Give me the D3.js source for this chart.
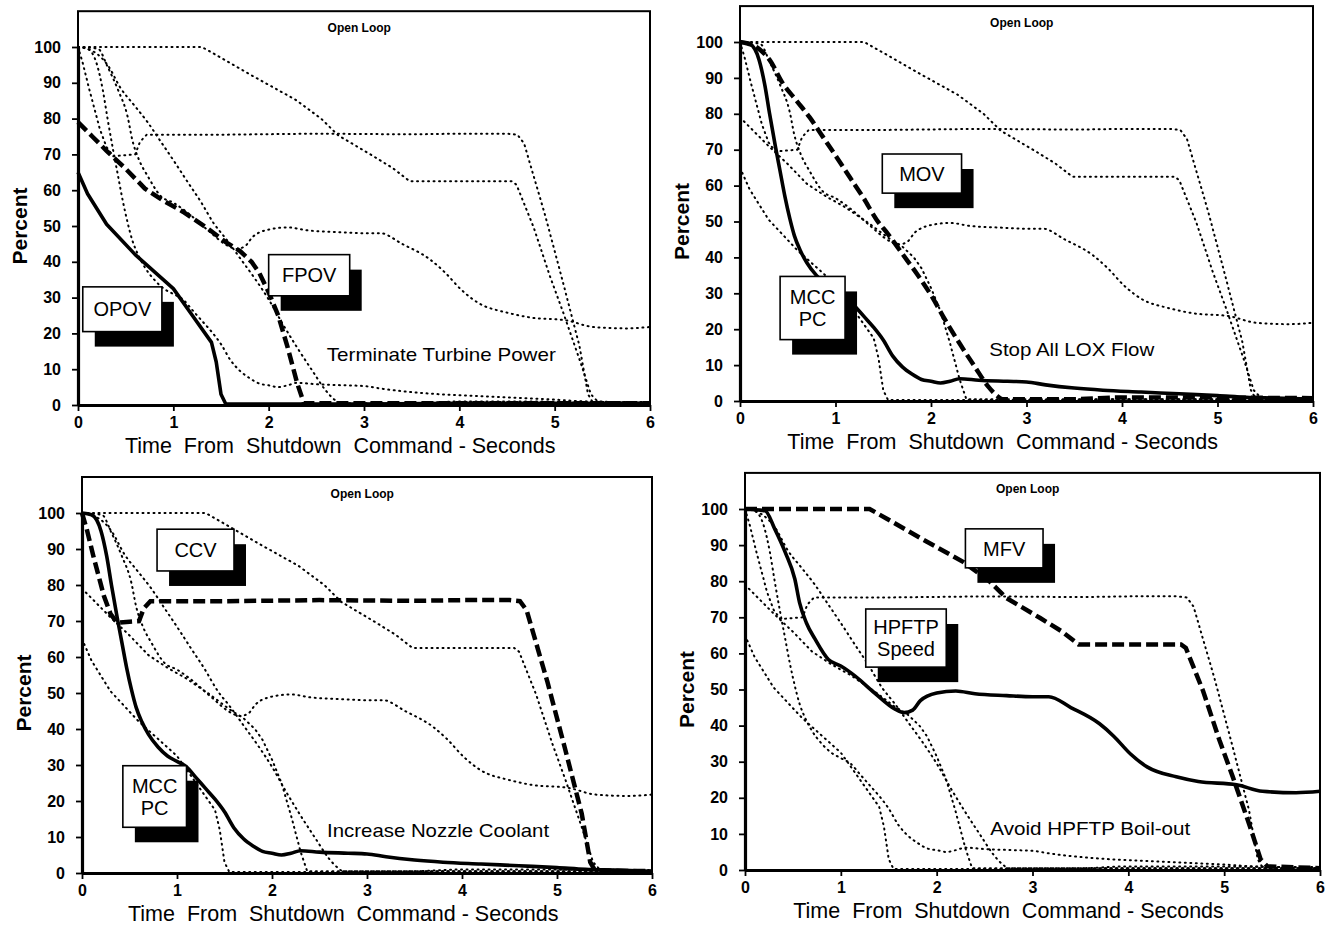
<!DOCTYPE html>
<html>
<head>
<meta charset="utf-8">
<script src="https://cdn.jsdelivr.net/npm/d3@7"></script>
<style>
  body { margin: 0; background: #fff; }
  svg { display: block; font-family: "Liberation Sans", Arial, Helvetica, sans-serif; }
</style>
</head>
<body>
<svg id="chart" width="1332" height="930"></svg>
<script>
// tick values
const xTicks = [0, 1, 2, 3, 4, 5, 6];
const yTicks = [0, 10, 20, 30, 40, 50, 60, 70, 80, 90, 100];

// shutdown traces, [seconds, percent]
const OPOV = [[0, 65], [0.1, 59], [0.3, 50.5], [0.6, 42], [1.0, 32.5], [1.2, 25], [1.4, 17.5], [1.45, 12],
  [1.5, 3], [1.55, 0.3], [2, 0.3], [3, 0.3], [4, 0.5], [5, 0.5], [6, 0.5]];
const FPOV = [[0, 79], [0.15, 75], [0.3, 71], [0.5, 66], [0.7, 60.5], [0.9, 57], [1.1, 54], [1.35, 49.5],
  [1.55, 45.5], [1.7, 43], [1.82, 40], [1.9, 37], [2.0, 31.5], [2.1, 25], [2.2, 16], [2.3, 6], [2.37, 0.5],
  [3, 0.5], [6, 0.5]];
const MOV = [[0, 100], [0.17, 98.6], [0.31, 95], [0.45, 88.4], [0.59, 83.7], [0.73, 79], [0.87, 73.5],
  [1.01, 68], [1.15, 62.3], [1.29, 56.7], [1.43, 50.5], [1.55, 46.5], [1.7, 41], [1.85, 35.5], [2.0, 29.5],
  [2.15, 22.5], [2.3, 16], [2.46, 9.5], [2.6, 4], [2.69, 1.5], [2.75, 0.5], [3.5, 0.5], [4, 1], [6, 0.8]];
const MCCPC = [[0, 100], [0.1, 99.5], [0.2, 95], [0.26, 88], [0.31, 80], [0.37, 71], [0.42, 64], [0.47, 57],
  [0.52, 51], [0.57, 46], [0.63, 42], [0.7, 38.5], [0.8, 35], [0.9, 32.5], [1.0, 31], [1.1, 29.5], [1.2, 26.5],
  [1.3, 23.5], [1.4, 20.5], [1.5, 17], [1.6, 12.5], [1.7, 9.5], [1.8, 7.5], [1.9, 6], [2.0, 5.5], [2.1, 5],
  [2.2, 5.5], [2.3, 6.2], [2.5, 5.8], [2.8, 5.5], [3.0, 5.3], [3.2, 4.5], [3.5, 3.6], [3.8, 3], [4.2, 2.5],
  [4.6, 2], [5.0, 1.5], [5.3, 1], [5.6, 0.8], [6, 0.5]];
const CCV = [[0, 100], [0.05, 95.5], [0.12, 88], [0.19, 81], [0.23, 77], [0.3, 72], [0.37, 69.5], [0.5, 69.8],
  [0.6, 70], [0.65, 73.5], [0.72, 75.5], [1.5, 75.5], [2.5, 75.8], [3.5, 75.6], [4.0, 75.8], [4.5, 75.8],
  [4.61, 75.5], [4.68, 73], [4.9, 53], [5.08, 35], [5.26, 16.5], [5.35, 3], [5.4, 0.7], [6, 0.5]];
const MFV = [[0, 100], [1.3, 100], [1.48, 97.3], [1.84, 91.8], [2.28, 85.3], [2.55, 80], [2.73, 75.3],
  [3.08, 69.8], [3.3, 66.2], [3.48, 62.5], [4.0, 62.5], [4.55, 62.5], [4.6, 61.5], [4.78, 49.6], [4.95, 36],
  [5.09, 25.8], [5.27, 12], [5.38, 3], [5.45, 1], [6, 0.5]];
const HPFTP = [[0, 100], [0.21, 99.5], [0.31, 94.5], [0.42, 88], [0.52, 80.6], [0.57, 74], [0.64, 68.5],
  [0.73, 64], [0.87, 58.3], [1.0, 56.5], [1.15, 53.7], [1.35, 49.1], [1.57, 44.5], [1.66, 43.6], [1.75, 44.3],
  [1.83, 46.9], [2.0, 49], [2.2, 49.6], [2.4, 48.8], [2.73, 48.3], [3.0, 48], [3.17, 48], [3.4, 45], [3.7, 40.5],
  [3.85, 37], [4.02, 32.2], [4.2, 28.5], [4.5, 25.8], [4.73, 24.5], [5.13, 23.6], [5.4, 21.8], [5.75, 21.4],
  [6, 21.8]];

const traces = { OPOV, FPOV, MOV, MCCPC, CCV, MFV, HPFTP };
const smooth = ["MOV", "MCCPC", "HPFTP"]; // the rest are valve ramps, drawn straight

// one entry per quadrant: which trace is solid / dashed, box labels and note
const panels = [
  { x0: 78, x1: 650, yb: 405, yt: 47, solid: "OPOV", dashed: "FPOV",
    note: { text: "Terminate Turbine Power", t: 2.61, p: 12.3, w: 229 },
    boxes: [{ lines: ["OPOV"], t0: 0.05, t1: 0.88, p0: 33, p1: 20.5 },
            { lines: ["FPOV"], t0: 2.0, t1: 2.85, p0: 42, p1: 30.5 }] },
  { x0: 740, x1: 1313, yb: 401, yt: 42, solid: "MCCPC", dashed: "MOV",
    note: { text: "Stop All LOX Flow", t: 2.61, p: 12.5, w: 165 },
    boxes: [{ lines: ["MOV"], t0: 1.49, t1: 2.32, p0: 68.8, p1: 57.9 },
            { lines: ["MCC", "PC"], t0: 0.42, t1: 1.1, p0: 34.7, p1: 17.1 }] },
  { x0: 82, x1: 652, yb: 873, yt: 513, solid: "MCCPC", dashed: "CCV",
    note: { text: "Increase Nozzle Coolant", t: 2.58, p: 10, w: 222 },
    boxes: [{ lines: ["CCV"], t0: 0.79, t1: 1.6, p0: 95.5, p1: 83.9 },
            { lines: ["MCC", "PC"], t0: 0.43, t1: 1.1, p0: 29.8, p1: 12.7 }] },
  { x0: 745, x1: 1320, yb: 870, yt: 509, solid: "HPFTP", dashed: "MFV",
    note: { text: "Avoid HPFTP Boil-out", t: 2.56, p: 9.8, w: 200 },
    boxes: [{ lines: ["MFV"], t0: 2.3, t1: 3.11, p0: 94.5, p1: 83.7 },
            { lines: ["HPFTP", "Speed"], t0: 1.26, t1: 2.1, p0: 72.3, p1: 56.2 }] }
];

const svg = d3.select("#chart");

panels.forEach(pn => {
  const x = d3.scaleLinear().domain([0, 6]).range([pn.x0, pn.x1]);
  const y = d3.scaleLinear().domain([0, 100]).range([pn.yb, pn.yt]);
  const g = svg.append("g");

  const lineFor = k => d3.line()
    .x(d => x(d[0]))
    .y(d => y(d[1]))
    .curve(smooth.includes(k) ? d3.curveMonotoneX : d3.curveLinear)(traces[k]);

  // all other traces dotted
  Object.keys(traces).forEach(k => {
    if (k === pn.solid || k === pn.dashed) return;
    g.append("path")
      .attr("d", lineFor(k))
      .attr("fill", "none")
      .attr("stroke", "#000")
      .attr("stroke-width", 2)
      .attr("stroke-linecap", "round")
      .attr("stroke-dasharray", "1,4.5");
  });

  g.append("path")
    .attr("d", lineFor(pn.dashed))
    .attr("fill", "none")
    .attr("stroke", "#000")
    .attr("stroke-width", 4.5)
    .attr("stroke-dasharray", "12,5");

  g.append("path")
    .attr("d", lineFor(pn.solid))
    .attr("fill", "none")
    .attr("stroke", "#000")
    .attr("stroke-width", 3.6)
    .attr("stroke-linejoin", "round");

  // frame
  g.append("rect")
    .attr("x", x(0)).attr("y", y(110))
    .attr("width", x(6) - x(0)).attr("height", y(0) - y(110))
    .attr("fill", "none").attr("stroke", "#000").attr("stroke-width", 2);

  // axes
  const ay = g.append("g")
    .attr("transform", `translate(${x(0)},0)`)
    .call(d3.axisLeft(y).tickValues(yTicks).tickSize(6).tickPadding(11).tickSizeOuter(0));
  const ax = g.append("g")
    .attr("transform", `translate(0,${y(0)})`)
    .call(d3.axisBottom(x).tickValues(xTicks).tickFormat(d3.format("d"))
      .tickSize(6).tickPadding(6).tickSizeOuter(0));
  [ax, ay].forEach(a => {
    a.select(".domain").attr("stroke-width", 3.2);
    a.selectAll(".tick line").attr("stroke-width", 1.8);
    a.selectAll("text")
      .attr("font-family", "'Liberation Sans', Arial, sans-serif")
      .attr("font-size", 16).attr("font-weight", "bold").attr("fill", "#000");
  });

  // axis titles
  g.append("text")
    .attr("transform", `translate(${x(0) - 51},${y(50)}) rotate(-90)`)
    .attr("text-anchor", "middle")
    .attr("font-size", 21).attr("font-weight", "bold")
    .text("Percent");

  g.append("text")
    .attr("x", x(2.75)).attr("y", y(0) + 48)
    .attr("text-anchor", "middle")
    .attr("font-size", 21.5)
    .text("Time\u00A0 From\u00A0 Shutdown\u00A0 Command - Seconds");

  g.append("text")
    .attr("x", x(2.95)).attr("y", y(104.3))
    .attr("text-anchor", "middle")
    .attr("font-size", 12).attr("font-weight", "bold")
    .text("Open Loop");

  g.append("text")
    .attr("x", x(pn.note.t)).attr("y", y(pn.note.p))
    .attr("font-size", 19)
    .attr("textLength", pn.note.w)
    .attr("lengthAdjust", "spacingAndGlyphs")
    .text(pn.note.text);

  // label boxes with drop shadow
  pn.boxes.forEach(b => {
    const bx = x(b.t0), by = y(b.p0), bw = x(b.t1) - x(b.t0), bh = y(b.p1) - y(b.p0);
    g.append("rect")
      .attr("x", bx + 12).attr("y", by + 15).attr("width", bw).attr("height", bh)
      .attr("fill", "#000");
    g.append("rect")
      .attr("x", bx).attr("y", by).attr("width", bw).attr("height", bh)
      .attr("fill", "#fff").attr("stroke", "#000").attr("stroke-width", 1.6);
    const n = b.lines.length;
    b.lines.forEach((s, i) => {
      g.append("text")
        .attr("x", bx + bw / 2)
        .attr("y", by + bh / 2 + (i - (n - 1) / 2) * 22)
        .attr("dy", "0.36em")
        .attr("text-anchor", "middle")
        .attr("font-size", 20)
        .text(s);
    });
  });
});
</script>
</body>
</html>
